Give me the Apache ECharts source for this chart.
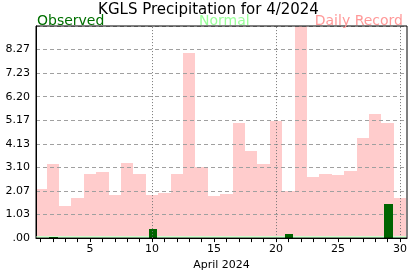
<!DOCTYPE html>
<html>
<head>
<meta charset="utf-8">
<script src="https://cdn.jsdelivr.net/npm/echarts@6/dist/echarts.min.js"></script>
<style>html,body{margin:0;padding:0;background:#fff}#c{width:417px;height:276px}</style>
</head>
<body>
<div id="c"></div>
<script>
const days = [1,2,3,4,5,6,7,8,9,10,11,12,13,14,15,16,17,18,19,20,21,22,23,24,25,26,27,28,29,30];
const record = [2.16,3.25,1.41,1.74,2.79,2.92,1.91,3.29,2.79,1.91,1.99,2.79,8.13,3.10,1.83,1.95,5.04,3.82,3.23,5.12,2.06,9.50,2.68,2.79,2.75,2.93,4.37,5.43,5.04,1.74];
const observed = [0,0.05,0,0,0,0,0,0,0,0.42,0,0,0,0,0,0,0,0,0,0,0.17,0,0,0,0,0,0,0,1.48,0];
const normal = [0.09,0.09,0.09,0.09,0.09,0.09,0.09,0.09,0.09,0.09,0.09,0.09,0.09,0.09,0.09,0.09,0.09,0.09,0.09,0.09,0.09,0.09,0.09,0.09,0.09,0.09,0.09,0.09,0.09,0.09];
const xLabelDays = [5,10,15,20,25,30];
const xGridDays = [10,20,30];
const yMax = 9.3;
const ySteps = 9;

const FONT = 'DejaVu Sans';
const chart = echarts.init(document.getElementById('c'), null, {renderer:'canvas'});

function rectItem(left, right, color) {
  return function (params, api) {
    const d = api.value(0), v = api.value(1);
    if (!(v > 0)) return null;
    const p0 = api.coord([d + left, v]);
    const p1 = api.coord([d + right, 0]);
    const x0 = Math.round(p0[0]), x1 = Math.round(p1[0]);
    const y0 = Math.round(p0[1]), y1 = Math.round(p1[1]);
    const cs = params.coordSys;
    const shape = echarts.graphic.clipRectByRect(
      {x: x0, y: y0, width: x1 - x0, height: y1 - y0},
      {x: cs.x, y: cs.y, width: cs.width, height: cs.height});
    if (!shape) return null;
    return {type: 'rect', shape: shape, style: {fill: color}};
  };
}

const option = {
  animation: false,
  backgroundColor: '#fff',
  textStyle: {fontFamily: FONT},
  title: [
    {text: 'KGLS Precipitation for 4/2024', left: 'center', top: -2,
     textStyle: {fontFamily: FONT, fontSize: 15, fontWeight: 'normal', color: '#000'}},
    {text: 'Observed', left: 32, top: 9,
     textStyle: {fontFamily: FONT, fontSize: 14, fontWeight: 'normal', color: '#007000'}},
    {text: 'Normal', left: 194, top: 9,
     textStyle: {fontFamily: FONT, fontSize: 14, fontWeight: 'normal', color: '#99ff99'}},
    {text: 'Daily Record', right: 9, top: 9,
     textStyle: {fontFamily: FONT, fontSize: 14, fontWeight: 'normal', color: '#ff9999'}}
  ],
  grid: {left: 36, right: 10, top: 26, bottom: 30, show: true, borderColor: '#000', borderWidth: 1, backgroundColor: 'transparent', z: 5},
  xAxis: {
    type: 'value', min: 0.645, max: 30.565, z: 5,
    axisLine: {show: true, lineStyle: {color: '#000', width: 1}},
    axisTick: {show: true, customValues: days, length: 4, lineStyle: {color: '#000'}},
    axisLabel: {customValues: xLabelDays, fontSize: 11, color: '#000', fontFamily: FONT, margin: 6},
    splitLine: {show: false},
    name: 'April 2024', nameLocation: 'middle', nameGap: 21,
    nameTextStyle: {fontSize: 11, color: '#000', fontFamily: FONT}
  },
  yAxis: {
    type: 'value', min: 0, max: yMax, interval: yMax / ySteps, z: 2,
    axisLine: {show: true, lineStyle: {color: '#000', width: 1}},
    axisTick: {show: false},
    axisLabel: {fontSize: 11, color: '#000', fontFamily: FONT, margin: 6,
      formatter: function (v) {
        if (v > yMax - 0.01) return '';
        let s = v.toFixed(2);
        if (s.startsWith('0')) s = s.slice(1);
        return s;
      }},
    splitLine: {show: true, lineStyle: {color: '#a0a0a0', type: [4, 3], width: 1}}
  },
  series: [
    {type: 'custom', name: 'Daily Record', z: 1, renderItem: rectItem(-0.5, 0.5, '#ffcccc'),
     data: days.map((d, i) => [d, record[i]]), encode: {x: 0, y: 1}},
    {type: 'custom', name: 'Normal', z: 3, renderItem: rectItem(-0.5, 0.5, '#ccffcc'),
     data: days.map((d, i) => [d, normal[i]]), encode: {x: 0, y: 1}},
    {type: 'custom', name: 'Observed', z: 4, renderItem: rectItem(-0.28, 0.40, '#006400'),
     data: days.map((d, i) => [d, observed[i]]), encode: {x: 0, y: 1}},
    {type: 'line', name: 'grid', z: 3, data: [], silent: true,
     markLine: {silent: true, symbol: 'none', label: {show: false},
       lineStyle: {color: '#777', type: [1, 2], width: 1},
       data: xGridDays.map(d => ({xAxis: d}))}}
  ]
};
chart.setOption(option);
</script>
</body>
</html>
